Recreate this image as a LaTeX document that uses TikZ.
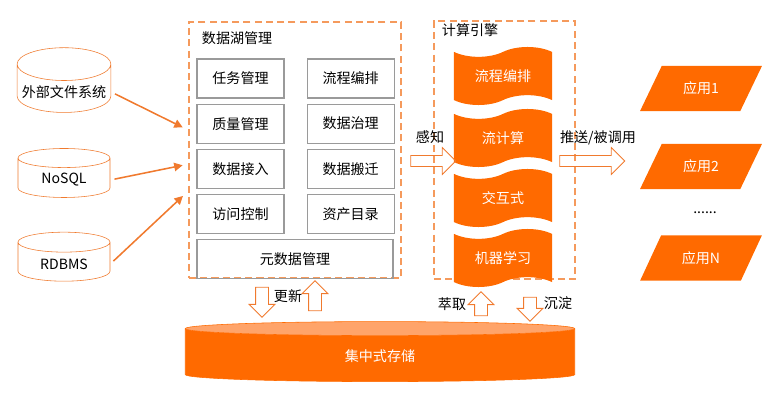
\documentclass[tikz,border=0pt]{standalone}
\usepackage{fontspec}
\setmainfont{Noto Sans CJK SC}
\usepackage{xcolor}
\usetikzlibrary{positioning,shapes.geometric,shapes.symbols,shapes.arrows,arrows.meta}
\definecolor{aliorange}{HTML}{FF6A00}
\definecolor{lineorange}{HTML}{F07A2E}
\definecolor{dashorange}{HTML}{F59A5C}
\definecolor{toporange}{HTML}{FFA46A}
\definecolor{cellgray}{HTML}{9A9A9A}

\begin{document}
\begin{tikzpicture}[
  x=0.025cm, y=-0.025cm,
  node distance=0.125cm and 0.55cm,
  every node/.style={font=\normalsize, align=center},
  source/.style={cylinder, shape border rotate=90, aspect=0.35, draw=lineorange,
                 fill=white, minimum width=2.3cm, minimum height=1.225cm},
  cell/.style={rectangle, draw=cellgray, line width=0.8pt, minimum width=2.175cm,
               minimum height=0.975cm},
  area/.style={rectangle, draw=dashorange, line width=0.8pt, dash pattern=on 5pt off 3pt},
  band/.style={tape, tape bend height=7pt, fill=aliorange, text=white,
               minimum width=2.45cm, minimum height=1.45cm},
  app/.style={trapezium, trapezium left angle=61, trapezium right angle=119,
              trapezium stretches=true, fill=aliorange, text=white,
              minimum width=3.05cm, minimum height=1.125cm},
  hollow/.style={single arrow, draw=lineorange, line width=0.6pt, inner xsep=0pt,
                 inner ysep=0.125cm, single arrow head extend=0.2cm},
  vhollow/.style={hollow, inner ysep=0.15cm, single arrow head extend=0.16cm},
  arrow/.style={-{Triangle[length=6pt,width=6pt]}, draw=lineorange, line width=1.1pt,
                shorten <=3pt, shorten >=1pt}
]
  \useasboundingbox (0,0) rectangle (780,400);

  % sources
  \node (ext) [source] at (64,92) {外部文件系统};
  \node (nosql) [source] at (64,180) {NoSQL};
  \node (rdbms) [source] at (64,264) {RDBMS};

  % data lake management
  \node (lake) [area, minimum width=5.3cm, minimum height=6.4cm] at (295,150) {};
  \node (laketitle) [anchor=west] at (197,38) {数据湖管理};
  \node (task) [cell] at (240.5,78.5) {任务管理};
  \node (flow) [cell, right=of task] {流程编排};
  \node (quality) [cell, below=of task] {质量管理};
  \node (govern) [cell, right=of quality] {数据治理};
  \node (ingest) [cell, below=of quality] {数据接入};
  \node (move) [cell, right=of ingest] {数据搬迁};
  \node (access) [cell, below=of ingest] {访问控制};
  \node (catalog) [cell, right=of access] {资产目录};
  \node (meta) [cell, minimum width=4.9cm, below=of access.south west, anchor=north west] {元数据管理};

  \coordinate (in1) at (184,128);
  \coordinate (in2) at (184,165);
  \coordinate (in3) at (184,195);
  \draw[arrow] (ext.east) -- (in1);
  \draw[arrow] (nosql.east) -- (in2);
  \draw[arrow] (rdbms.east) -- (in3);

  % compute engine
  \node (engine) [area, minimum width=3.525cm, minimum height=6.45cm] at (504.5,150) {};
  \node (enginetitle) [anchor=west] at (437,30) {计算引擎};
  \node (flowb) [band] at (503,76) {流程编排};
  \node (stream) [band] at (503,138) {流计算};
  \node (inter) [band] at (503,198) {交互式};
  \node (ml) [band] at (503,258) {机器学习};

  \node (sense) at (430,137) {感知};
  \node (sensearr) [hollow, minimum height=1.125cm] at (430.5,161) {};
  \node (push) at (598,138) {推送/被调用};
  \node (pusharr) [hollow, minimum height=1.625cm] at (589.5,161) {};

  % applications
  \node (app1) [app] at (701,88.5) {应用1};
  \node (app2) [app] at (701,166.5) {应用2};
  \node (dots) at (705,213) {......};
  \node (appn) [app] at (701,258) {应用N};

  % storage
  \node (store) [cylinder, shape border rotate=90, aspect=0.036, cylinder uses custom fill,
                 cylinder body fill=aliorange, cylinder end fill=toporange, draw=aliorange,
                 text width=9.5cm, minimum height=1.5cm, text=white] at (380,356) {集中式存储};

  \node (updown) [vhollow, rotate=-90, minimum height=0.75cm] at (262,299) {};
  \node (update) at (288,296) {更新};
  \node (updup) [vhollow, rotate=90, minimum height=0.75cm] at (315,299) {};
  \node (extract) at (452,304) {萃取};
  \node (extractarr) [vhollow, rotate=90, minimum height=0.6cm] at (481,307) {};
  \node (settlearr) [vhollow, rotate=-90, minimum height=0.6cm] at (530,306) {};
  \node (settle) at (558,303) {沉淀};
\end{tikzpicture}
\end{document}
